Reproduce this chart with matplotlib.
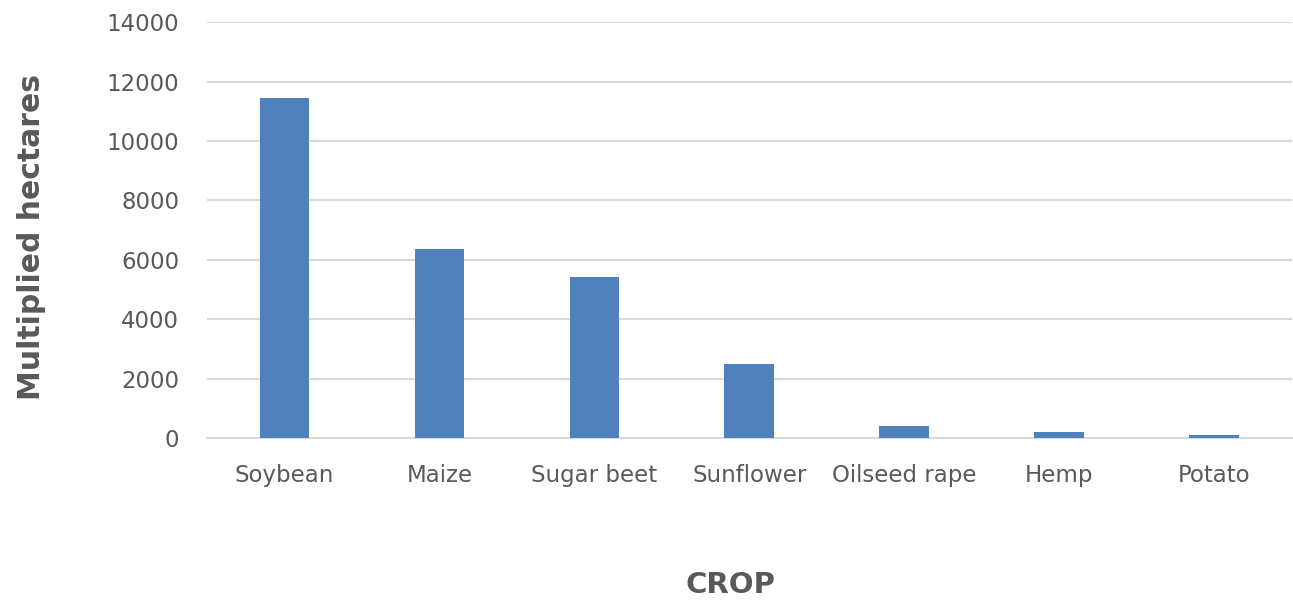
import matplotlib.pyplot as plt

crops = ['Soybean', 'Maize', 'Sugar beet', 'Sunflower', 'Oilseed rape', 'Hemp', 'Potato']
hectares = [11450, 6350, 5420, 2490, 410, 210, 100]
yticks = [0, 2000, 4000, 6000, 8000, 10000, 12000, 14000]

plt.rcParams['font.family'] = ['DejaVu Sans']
fig = plt.figure(figsize=(12.93, 6.0), dpi=100)
ax = fig.add_axes([0.160, 0.27, 0.839, 0.693])

ax.bar(range(len(crops)), hectares, width=0.32, color='#4F81BD', zorder=3)

ax.set_xlim(-0.5, len(crops) - 0.5)
ax.set_ylim(0, 14000)
ax.set_yticks(yticks)
ax.set_xticks(range(len(crops)))
ax.set_xticklabels(crops)
ax.tick_params(axis='both', length=0, labelsize=16.5, labelcolor='#595959')
ax.tick_params(axis='x', pad=19)
ax.tick_params(axis='y', pad=20)
ax.grid(axis='y', color='#d9d9d9', linewidth=1.5, zorder=0)
for s in ['top', 'right', 'left']:
    ax.spines[s].set_visible(False)
ax.spines['bottom'].set_color('#d9d9d9')
ax.spines['bottom'].set_linewidth(1.5)

fig.text(0.024, 0.605, 'Multiplied hectares', rotation=90, ha='center', va='center',
         fontsize=21.5, fontweight='bold', color='#595959')
fig.text(0.565, 0.025, 'CROP', ha='center', va='center',
         fontsize=21, fontweight='bold', color='#595959')

fig.savefig('out.png', dpi=100)
